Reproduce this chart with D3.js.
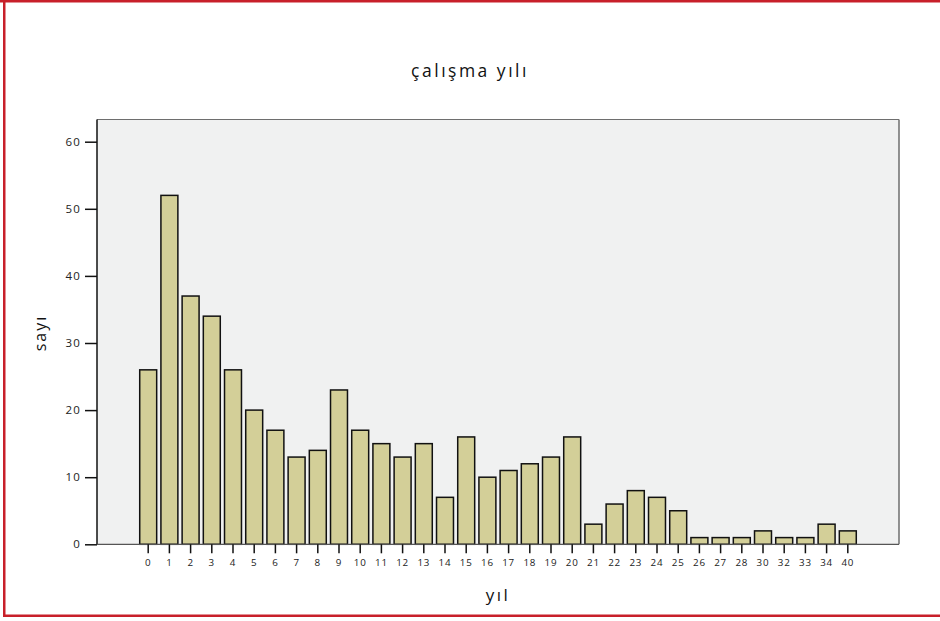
<!DOCTYPE html>
<html><head><meta charset="utf-8">
<script src="https://cdn.jsdelivr.net/npm/d3@7/dist/d3.min.js"></script>
<style>html,body{margin:0;padding:0;background:#fff;}svg{display:block;}</style>
</head><body>
<script>
const categories = ["0","1","2","3","4","5","6","7","8","9","10","11","12","13","14","15","16","17","18","19","20","21","22","23","24","25","26","27","28","30","32","33","34","40"];
const counts = [26,52,37,34,26,20,17,13,14,23,17,15,13,15,7,16,10,11,12,13,16,3,6,8,7,5,1,1,1,2,1,1,3,2];
const yTicks = [0,10,20,30,40,50,60];
const title = "çalışma yılı";
const xTitle = "yıl";
const yTitle = "sayı";

const W = 940, H = 621;
const plot = {left: 97, top: 119.5, right: 899, bottom: 544.3};
const svg = d3.select("body").append("svg").attr("width", W).attr("height", H);
const font = "'Open Sans', 'DejaVu Sans', sans-serif";

// red frame
svg.append("rect").attr("x",0).attr("y",0).attr("width",W).attr("height",2.5).attr("fill","#c8202a");
svg.append("rect").attr("x",3).attr("y",0).attr("width",2.5).attr("height",617).attr("fill","#c8202a");
svg.append("rect").attr("x",3).attr("y",614.5).attr("width",W).attr("height",2.5).attr("fill","#c8202a");

const x = d3.scaleBand().domain(categories).range([plot.left, plot.right]).paddingInner(0.2).paddingOuter(2.015);
const y = d3.scaleLinear().domain([0, 60]).range([plot.bottom, 141.7]);
const y0 = y(0);
svg.append("rect").attr("x",plot.left).attr("y",plot.top).attr("width",plot.right-plot.left).attr("height",plot.bottom-plot.top)
  .attr("fill","#f0f1f1");
svg.append("line").attr("x1",plot.left).attr("x2",plot.right).attr("y1",plot.top).attr("y2",plot.top).attr("stroke","#6e6e6e").attr("stroke-width",1.2);
svg.append("line").attr("x1",plot.right).attr("x2",plot.right).attr("y1",plot.top).attr("y2",plot.bottom).attr("stroke","#6e6e6e").attr("stroke-width",1.5);

svg.append("g").selectAll("rect").data(categories).join("rect")
  .attr("x", d => x(d)).attr("width", x.bandwidth())
  .attr("y", (d,i) => y(counts[i])).attr("height", (d,i) => y0 - y(counts[i]))
  .attr("fill","#d3cf98").attr("stroke","#111").attr("stroke-width",1.5);

const yAxis = d3.axisLeft(y).tickValues(yTicks).tickSize(12).tickPadding(4).tickSizeOuter(0);
const gy = svg.append("g").attr("transform",`translate(${plot.left},0)`).call(yAxis);
gy.select(".domain").attr("stroke","#111").attr("stroke-width",1.5).attr("d",`M0,${plot.top}V${plot.bottom}`);
gy.selectAll(".tick line").attr("stroke","#111").attr("stroke-width",1.5);
gy.selectAll("text").attr("font-family",font).attr("font-size",11.5).attr("letter-spacing",1.2).attr("fill","#222");

const xAxis = d3.axisBottom(x).tickSize(9).tickPadding(6).tickSizeOuter(0);
const gx = svg.append("g").attr("transform",`translate(0,${plot.bottom})`).call(xAxis);
gx.select(".domain").attr("stroke","#555").attr("stroke-width",1.2).attr("d",`M${plot.left},0H${plot.right}`);
gx.selectAll(".tick line").attr("stroke","#111").attr("stroke-width",1.5);
gx.selectAll("text").attr("font-family",font).attr("font-size",9.8).attr("letter-spacing",0.8).attr("fill","#222");

svg.append("text").attr("x",470).attr("y",77).attr("text-anchor","middle").attr("font-family",font).attr("font-size",17.5).attr("letter-spacing",2.5).attr("fill","#111").text(title);
svg.append("text").attr("x",498).attr("y",601).attr("text-anchor","middle").attr("font-family",font).attr("font-size",17).attr("letter-spacing",2.5).attr("fill","#111").text(xTitle);
svg.append("text").attr("transform","translate(46,333) rotate(-90)").attr("text-anchor","middle").attr("font-family",font).attr("font-size",16).attr("letter-spacing",2).attr("fill","#111").text(yTitle);
</script>
</body></html>
